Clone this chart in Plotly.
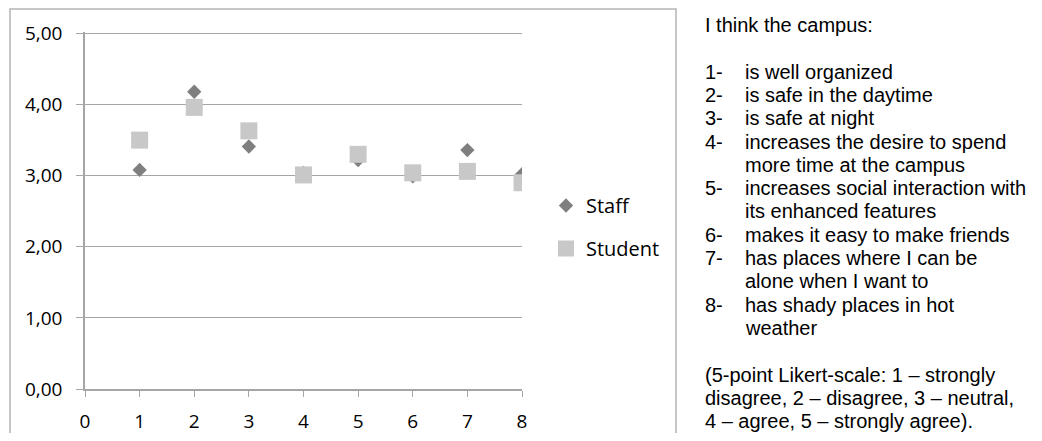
import plotly.graph_objects as go

# ---- data ----
items = [1, 2, 3, 4, 5, 6, 7, 8]
staff = [3.08, 4.18, 3.41, 3.04, 3.22, 2.99, 3.36, 3.02]
student = [3.50, 3.96, 3.63, 3.01, 3.30, 3.04, 3.06, 2.90]
y_tickvals = [0, 1, 2, 3, 4, 5]
y_ticktext = ["0,00", "1,00", "2,00", "3,00", "4,00", "5,00"]
x_tickvals = [0, 1, 2, 3, 4, 5, 6, 7, 8]

title_line = "I think the campus:"
item_numbers = ["1-", "2-", "3-", "4-", "", "5-", "", "6-", "7-", "", "8-", ""]
item_texts = [
    "is well organized",
    "is safe in the daytime",
    "is safe at night",
    "increases the desire to spend",
    "more time at the campus",
    "increases social interaction with",
    "its enhanced features",
    "makes it easy to make friends",
    "has places where I can be",
    "alone when I want to",
    "has shady places in hot",
    "weather",
]
note_lines = [
    "(5-point Likert-scale: 1 \u2013 strongly",
    "disagree, 2 \u2013 disagree, 3 \u2013 neutral,",
    "4 \u2013 agree, 5 \u2013 strongly agree).",
]

OFF = 8  # default page body margin
W, H = 1042 - 2 * OFF, 441 - 2 * OFF
# plot area in screen pixels
SL, SR, ST, SB = 85, 522, 32, 389
L, R, T, B = SL - OFF, SR - OFF, ST - OFF, SB - OFF


def px(x):
    return (x - SL) / (SR - SL)


def py(y):
    return (SB - y) / (SB - ST)


fig = go.Figure()
fig.add_trace(go.Scatter(
    x=items, y=staff, mode="markers", name="Staff",
    marker=dict(symbol="diamond", size=11, color="#7f7f7f", line=dict(width=0)),
    legendgroup="a",
))
fig.add_trace(go.Scatter(
    x=items, y=student, mode="markers", name="Student",
    marker=dict(symbol="square", size=17, color="#c8c8c8", line=dict(width=0)),
    legendgroup="b",
))

axis_font = dict(family="Open Sans", size=19, color="#000000")

fig.update_layout(
    width=W, height=H,
    margin=dict(l=L, r=W - R, t=T, b=H - B, pad=0, autoexpand=False),
    paper_bgcolor="white", plot_bgcolor="white",
    showlegend=True,
    legend=dict(
        x=px(546), y=py(186), xanchor="left", yanchor="top",
        font=dict(family="Open Sans", size=20, color="#000000"),
        tracegroupgap=14, itemsizing="trace", bgcolor="rgba(0,0,0,0)",
    ),
    xaxis=dict(
        range=[0, 8], tickvals=x_tickvals, ticktext=[str(v) for v in x_tickvals],
        showgrid=False, zeroline=False, showline=True, linecolor="#a6a6a6", linewidth=1.5,
        ticks="outside", ticklen=6, tickcolor="#a6a6a6", tickwidth=1,
        tickfont=axis_font, ticklabelstandoff=8, automargin=False,
    ),
    yaxis=dict(
        range=[0, 5.02], tickvals=y_tickvals, ticktext=y_ticktext,
        showgrid=True, gridcolor="#a6a6a6", gridwidth=1, zeroline=False,
        showline=True, linecolor="#a6a6a6", linewidth=1.5,
        ticks="outside", ticklen=7, tickcolor="#a6a6a6", tickwidth=1,
        tickfont=axis_font, ticklabelstandoff=10, automargin=False,
    ),
)

# outer chart border
fig.add_shape(type="rect", xref="paper", yref="paper",
              x0=px(10), x1=px(676), y0=py(450), y1=py(9),
              line=dict(color="#b4b4b4", width=1.5), fillcolor="rgba(0,0,0,0)", layer="below")

text_font = dict(family="Liberation Sans", size=20, color="#000000")
y0, step = 25.0, 23.3


def add_line(xpix, idx, text):
    if not text:
        return
    fig.add_annotation(x=px(xpix), y=py(y0 + step * idx), xref="paper", yref="paper",
                       text=text, showarrow=False, xanchor="left", yanchor="middle",
                       font=text_font, align="left")


add_line(703, 0, title_line)
for i, (n, t) in enumerate(zip(item_numbers, item_texts)):
    add_line(703, 2 + i, n)
    add_line(743, 2 + i, t)
for i, t in enumerate(note_lines):
    add_line(703, 15 + i, t)

fig.write_html("out.html")
